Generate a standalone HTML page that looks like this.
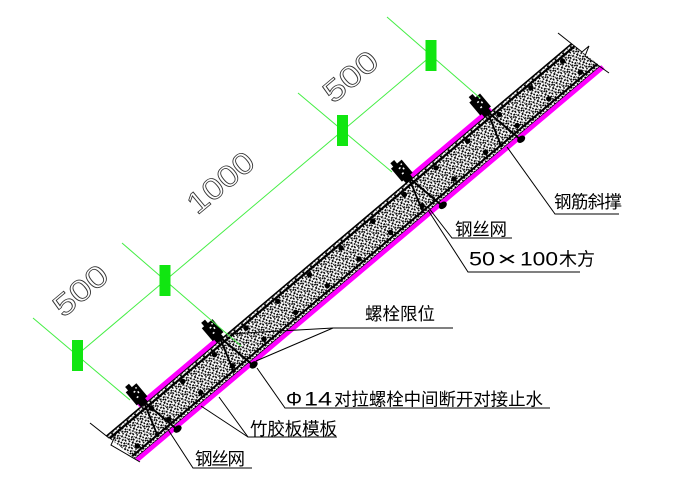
<!DOCTYPE html>
<html>
<head>
<meta charset="utf-8">
<style>
html,body{margin:0;padding:0;background:#fff;}
svg{display:block;}
.cj{font-family:"Liberation Sans","Noto Sans CJK SC",sans-serif;fill:#000;}
.dim{font-family:"Liberation Sans",sans-serif;fill:none;stroke:#333;stroke-width:0.8;}
</style>
</head>
<body>
<svg width="687" height="487" viewBox="0 0 687 487" xmlns="http://www.w3.org/2000/svg">
<defs>
<pattern id="conc" width="10" height="10" patternUnits="userSpaceOnUse">
<rect width="10" height="10" fill="#fff"/>
<g fill="#000">
<rect x="0" y="0" width="2" height="1.6"/>
<rect x="3" y="1.2" width="1.5" height="2.2"/>
<rect x="6" y="0.3" width="2.2" height="1.5"/>
<rect x="8.5" y="2.5" width="1.5" height="1.8"/>
<rect x="1" y="3.8" width="2.2" height="1.5"/>
<rect x="4.8" y="4" width="1.6" height="1.6"/>
<rect x="7" y="5" width="1.8" height="2"/>
<rect x="0" y="6.8" width="1.5" height="2"/>
<rect x="2.8" y="7" width="2" height="1.6"/>
<rect x="5.5" y="8.3" width="1.6" height="1.5"/>
<rect x="8.2" y="8.5" width="1.8" height="1.5"/>
<rect x="2" y="9.2" width="1.4" height="0.8"/>
<polygon points="5.8,2 7.6,2.8 6,3.6"/>
<polygon points="9,6 10,7.2 8.8,7.4"/>
<polygon points="3.5,5.6 4.8,6.2 3.6,6.8"/>
</g>
</pattern>
</defs>

<rect width="687" height="487" fill="#fff"/>

<g transform="matrix(0.7644,-0.6447,-0.6447,-0.7644,137,460)">
  <polygon points="-0.4,2 608.2,2 600.6,38 -7.8,38" fill="url(#conc)"/>
  <line x1="-7.8" y1="38" x2="600.6" y2="38" stroke="#000" stroke-width="1.6"/>
  <line x1="-7" y1="34.2" x2="601" y2="34.2" stroke="#000" stroke-width="2.2"/>
  <line x1="-1.2" y1="6" x2="607.3" y2="6" stroke="#000" stroke-width="2"/>
  <line x1="-0.4" y1="2.4" x2="608.2" y2="2.4" stroke="#000" stroke-width="1"/>
  <g fill="#000">
    <circle cx="44.3" cy="30.5" r="2.7"/><circle cx="85.7" cy="30.5" r="2.7"/><circle cx="127.1" cy="30.5" r="2.7"/>
    <circle cx="168.5" cy="30.5" r="2.7"/><circle cx="209.9" cy="30.5" r="2.7"/><circle cx="251.3" cy="30.5" r="2.7"/>
    <circle cx="292.7" cy="30.5" r="2.7"/><circle cx="334.1" cy="30.5" r="2.7"/><circle cx="375.5" cy="30.5" r="2.7"/>
    <circle cx="416.9" cy="30.5" r="2.7"/><circle cx="458.3" cy="30.5" r="2.7"/><circle cx="499.7" cy="30.5" r="2.7"/>
    <circle cx="541.1" cy="30.5" r="2.7"/><circle cx="582.5" cy="30.5" r="2.7"/>
    <circle cx="9.4" cy="10.5" r="2.7"/><circle cx="50.8" cy="10.5" r="2.7"/><circle cx="92.2" cy="10.5" r="2.7"/>
    <circle cx="133.6" cy="10.5" r="2.7"/><circle cx="175" cy="10.5" r="2.7"/><circle cx="216.4" cy="10.5" r="2.7"/>
    <circle cx="257.8" cy="10.5" r="2.7"/><circle cx="299.2" cy="10.5" r="2.7"/><circle cx="340.6" cy="10.5" r="2.7"/>
    <circle cx="382" cy="10.5" r="2.7"/><circle cx="423.4" cy="10.5" r="2.7"/><circle cx="464.8" cy="10.5" r="2.7"/>
    <circle cx="506.2" cy="10.5" r="2.7"/><circle cx="547.6" cy="10.5" r="2.7"/><circle cx="589" cy="10.5" r="2.7"/>
  </g>
  <line x1="0" y1="0" x2="609.6" y2="0" stroke="#ff00ff" stroke-width="4.6"/>
  <line x1="36" y1="40.5" x2="143" y2="40.5" stroke="#ff00ff" stroke-width="4.6"/>
  <line x1="390" y1="40.5" x2="497" y2="40.5" stroke="#ff00ff" stroke-width="4.6"/>

  <g stroke="#000" fill="#000">
    <line x1="43" y1="40" x2="50" y2="-1" stroke-width="2"/>
    <line x1="42" y1="38" x2="31" y2="4" stroke-width="1.8"/>
    <ellipse cx="51" cy="-2.5" rx="4.5" ry="3.2" stroke="none"/>
    <rect x="35" y="42" width="14" height="17" stroke="none"/>
    <rect x="38" y="58.5" width="5" height="5" stroke="none"/>
    <rect x="37" y="38" width="9" height="5" stroke="none"/>
    <g fill="#fff" stroke="none"><rect x="40" y="47" width="2" height="1.5"/><rect x="44" y="50" width="1.5" height="2"/><rect x="41" y="53" width="2" height="1.5"/><rect x="45" y="55" width="1.5" height="1.5"/></g>
  </g>
  <g stroke="#000" fill="#000">
    <line x1="142.5" y1="40" x2="149.5" y2="-1" stroke-width="2"/>
    <line x1="141.5" y1="38" x2="130.5" y2="4" stroke-width="1.8"/>
    <ellipse cx="150.5" cy="-2.5" rx="4.5" ry="3.2" stroke="none"/>
    <rect x="134.5" y="42" width="14" height="17" stroke="none"/>
    <rect x="137.5" y="58.5" width="5" height="5" stroke="none"/>
    <rect x="136.5" y="38" width="9" height="5" stroke="none"/>
    <g fill="#fff" stroke="none"><rect x="139.5" y="47" width="2" height="1.5"/><rect x="143.5" y="50" width="1.5" height="2"/><rect x="140.5" y="53" width="2" height="1.5"/><rect x="144.5" y="55" width="1.5" height="1.5"/></g>
  </g>
  <g stroke="#000" fill="#000">
    <line x1="390" y1="40" x2="397" y2="-1" stroke-width="2"/>
    <line x1="389" y1="38" x2="378" y2="4" stroke-width="1.8"/>
    <ellipse cx="398" cy="-2.5" rx="4.5" ry="3.2" stroke="none"/>
    <rect x="382" y="42" width="14" height="17" stroke="none"/>
    <rect x="385" y="58.5" width="5" height="5" stroke="none"/>
    <rect x="384" y="38" width="9" height="5" stroke="none"/>
    <g fill="#fff" stroke="none"><rect x="387" y="47" width="2" height="1.5"/><rect x="391" y="50" width="1.5" height="2"/><rect x="388" y="53" width="2" height="1.5"/><rect x="392" y="55" width="1.5" height="1.5"/></g>
  </g>
  <g stroke="#000" fill="#000">
    <line x1="492.5" y1="40" x2="499.5" y2="-1" stroke-width="2"/>
    <line x1="491.5" y1="38" x2="480.5" y2="4" stroke-width="1.8"/>
    <ellipse cx="500.5" cy="-2.5" rx="4.5" ry="3.2" stroke="none"/>
    <rect x="484.5" y="42" width="14" height="17" stroke="none"/>
    <rect x="487.5" y="58.5" width="5" height="5" stroke="none"/>
    <rect x="486.5" y="38" width="9" height="5" stroke="none"/>
    <g fill="#fff" stroke="none"><rect x="489.5" y="47" width="2" height="1.5"/><rect x="493.5" y="50" width="1.5" height="2"/><rect x="490.5" y="53" width="2" height="1.5"/><rect x="494.5" y="55" width="1.5" height="1.5"/></g>
  </g>
</g>

<polyline points="558,33 582,52 589,46 585,56 609,73" fill="none" stroke="#000" stroke-width="1"/>
<polyline points="90,423 109,438 116,434 111,445 140,462" fill="none" stroke="#000" stroke-width="1"/>

<g stroke="#44ee44" stroke-width="1" fill="none">
  <line x1="77" y1="355" x2="431" y2="56"/>
  <line x1="33" y1="318" x2="130" y2="400"/>
  <line x1="122" y1="243" x2="241" y2="346"/>
  <line x1="298" y1="93" x2="392" y2="172"/>
  <line x1="387" y1="17" x2="480" y2="98"/>
</g>
<g fill="#11e611">
  <rect x="72" y="340" width="11" height="31"/>
  <rect x="159.5" y="265" width="11" height="31"/>
  <rect x="337" y="115" width="11" height="31"/>
  <rect x="425.5" y="40" width="11" height="31"/>
</g>

<text class="dim" font-size="30" text-anchor="middle" transform="translate(80,290) rotate(-40)" dy="11" textLength="62" lengthAdjust="spacingAndGlyphs">500</text>
<text class="dim" font-size="30" text-anchor="middle" transform="translate(220,182) rotate(-40)" dy="11" textLength="78" lengthAdjust="spacingAndGlyphs">1000</text>
<text class="dim" font-size="30" text-anchor="middle" transform="translate(350,76) rotate(-40)" dy="11" textLength="62" lengthAdjust="spacingAndGlyphs">500</text>

<g stroke="#000" stroke-width="1" fill="none">
  <polyline points="507,147 555,214 619,214"/>
  <polyline points="428,207 452,238 512,238"/>
  <polyline points="428,210 468,272 580,272"/>
  <polyline points="229,334 333,328 453,328"/>
  <line x1="256" y1="361" x2="333" y2="328"/>
  <polyline points="257,368 285,408 550,408"/>
  <polyline points="219,397 248,437 337,437"/>
  <line x1="201" y1="406" x2="248" y2="437"/>
  <polyline points="167,428 193,468 252,468"/>
</g>

<text class="cj" x="554" y="208" font-size="17.5" textLength="68" lengthAdjust="spacing">钢筋斜撑</text>
<text class="cj" x="455" y="235.5" font-size="17.5" textLength="52" lengthAdjust="spacing">钢丝网</text>
<text class="cj" x="469" y="265.5" font-size="19" textLength="26" lengthAdjust="spacingAndGlyphs">50</text>
<text class="cj" x="497" y="265.5" font-size="19" textLength="20" lengthAdjust="spacingAndGlyphs">×</text>
<text class="cj" x="520" y="265.5" font-size="19" textLength="38" lengthAdjust="spacingAndGlyphs">100</text>
<text class="cj" x="559" y="265.5" font-size="18" textLength="36" lengthAdjust="spacing">木方</text>
<text class="cj" x="365" y="320" font-size="17.5" textLength="70" lengthAdjust="spacing">螺栓限位</text>
<text class="cj" x="286" y="405.5" font-size="19" textLength="16" lengthAdjust="spacingAndGlyphs">Φ</text>
<text class="cj" x="304" y="405.5" font-size="19" textLength="28" lengthAdjust="spacingAndGlyphs">14</text>
<text class="cj" x="334" y="405.5" font-size="17.5" textLength="209" lengthAdjust="spacing">对拉螺栓中间断开对接止水</text>
<text class="cj" x="250" y="435" font-size="17.5" textLength="87" lengthAdjust="spacing">竹胶板模板</text>
<text class="cj" x="195" y="465" font-size="17.5" textLength="50" lengthAdjust="spacing">钢丝网</text>
</svg>
</body>
</html>
